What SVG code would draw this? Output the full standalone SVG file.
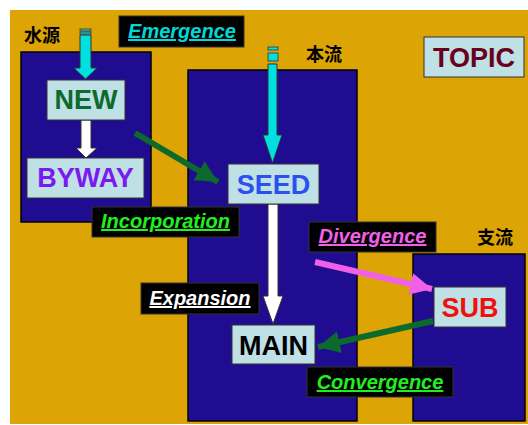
<svg xmlns="http://www.w3.org/2000/svg" width="528" height="425" viewBox="0 0 528 425">
<defs>
<style>
.col{fill:#200C90;stroke:#000;stroke-width:1.5}
.box{fill:#BFE0E4;stroke:#333;stroke-width:1}
.bt{font-family:"Liberation Sans",Arial,sans-serif;font-weight:bold;font-size:27px;text-anchor:middle}
.lb{fill:#000;stroke:#333;stroke-width:1}
.lt{font-family:"Liberation Sans",Arial,sans-serif;font-weight:bold;font-style:italic;font-size:20px;text-anchor:middle;text-decoration:underline}
.cjk{font-family:"Noto Sans CJK JP","Noto Sans CJK SC",sans-serif;font-weight:bold;font-size:18px;fill:#000}
.blk{stroke:#333;stroke-width:1}
</style>
<marker id="hg" markerUnits="userSpaceOnUse" markerWidth="24" markerHeight="22" refX="22" refY="11" orient="auto"><path d="M0,0 L22,11 L0,22 Z" fill="#0B6A2C"/></marker>
<marker id="hp" markerUnits="userSpaceOnUse" markerWidth="24" markerHeight="22" refX="22" refY="11" orient="auto"><path d="M0,0 L22,11 L0,22 Z" fill="#F060E8"/></marker>
</defs>
<rect x="10" y="10" width="518" height="414" fill="#DDA405"/>
<g id="col-source"><rect class="col" x="21" y="52" width="130" height="170"/><text class="cjk" x="24" y="42">水源</text></g>
<g id="col-main"><rect class="col" x="188" y="70" width="169" height="351"/><text class="cjk" x="306" y="61">本流</text></g>
<g id="col-branch"><rect class="col" x="413" y="254" width="112" height="167"/><text class="cjk" x="477" y="244">支流</text></g>
<g id="connectors">
<rect x="80" y="29" width="11" height="2" fill="#00E0E0" stroke="#333" stroke-width="0.8"/>
<rect x="80" y="32" width="11" height="2" fill="#00E0E0" stroke="#333" stroke-width="0.8"/>
<polygon class="blk" fill="#00E0E0" points="80,35 91,35 91,68 97,68 85.5,79 74,68 80,68"/>
<rect x="268" y="47" width="10" height="3" fill="#00E0E0" stroke="#333" stroke-width="0.8"/>
<rect x="268" y="53" width="10" height="8" fill="#00E0E0" stroke="#333" stroke-width="0.8"/>
<polygon class="blk" fill="#00E0E0" points="268,64 277,64 277,135 282,135 272.5,163 263,135 268,135"/>
<polygon class="blk" fill="#FFFFFF" points="81,120 91,120 91,148 97,148 86,158 76,148 81,148"/>
<polygon class="blk" fill="#FFFFFF" points="268,204 278,204 278,296 283,296 273,324 263,296 268,296"/>
<line x1="135" y1="133" x2="218" y2="182" stroke="#0B6A2C" stroke-width="6" marker-end="url(#hg)"/>
<line x1="315" y1="262" x2="432" y2="289" stroke="#F060E8" stroke-width="6" marker-end="url(#hp)"/>
<line x1="433" y1="321" x2="318" y2="347" stroke="#0B6A2C" stroke-width="6" marker-end="url(#hg)"/>
</g>
<g id="new"><rect class="box" x="47" y="80" width="78" height="40"/><text class="bt" x="86" y="109" fill="#0B6A2C">NEW</text></g>
<g id="byway"><rect class="box" x="27" y="158" width="117" height="40"/><text class="bt" x="85.5" y="187" fill="#7A1AF0">BYWAY</text></g>
<g id="seed"><rect class="box" x="228" y="164" width="91" height="40"/><text class="bt" x="273.5" y="194" fill="#2A50F0">SEED</text></g>
<g id="main"><rect class="box" x="232" y="325" width="83" height="39"/><text class="bt" x="273.5" y="355" fill="#000">MAIN</text></g>
<g id="sub"><rect class="box" x="434" y="287" width="72" height="40"/><text class="bt" x="470" y="317" fill="#F01010">SUB</text></g>
<g id="topic"><rect class="box" x="424" y="37" width="100" height="40"/><text class="bt" x="474" y="67" fill="#6A0020">TOPIC</text></g>
<g id="emergence"><rect class="lb" x="119" y="16" width="125" height="31"/><text class="lt" x="182" y="38" fill="#00D8D8">Emergence</text></g>
<g id="incorporation"><rect class="lb" x="92" y="207" width="147" height="30"/><text class="lt" x="165.5" y="228" fill="#20F020">Incorporation</text></g>
<g id="expansion"><rect class="lb" x="141" y="283" width="118" height="31"/><text class="lt" x="200" y="305" fill="#FFFFFF">Expansion</text></g>
<g id="divergence"><rect class="lb" x="309" y="222" width="127" height="30"/><text class="lt" x="372.5" y="243" fill="#F060E8">Divergence</text></g>
<g id="convergence"><rect class="lb" x="307" y="367" width="146" height="30"/><text class="lt" x="380" y="389" fill="#20F020">Convergence</text></g>
</svg>
